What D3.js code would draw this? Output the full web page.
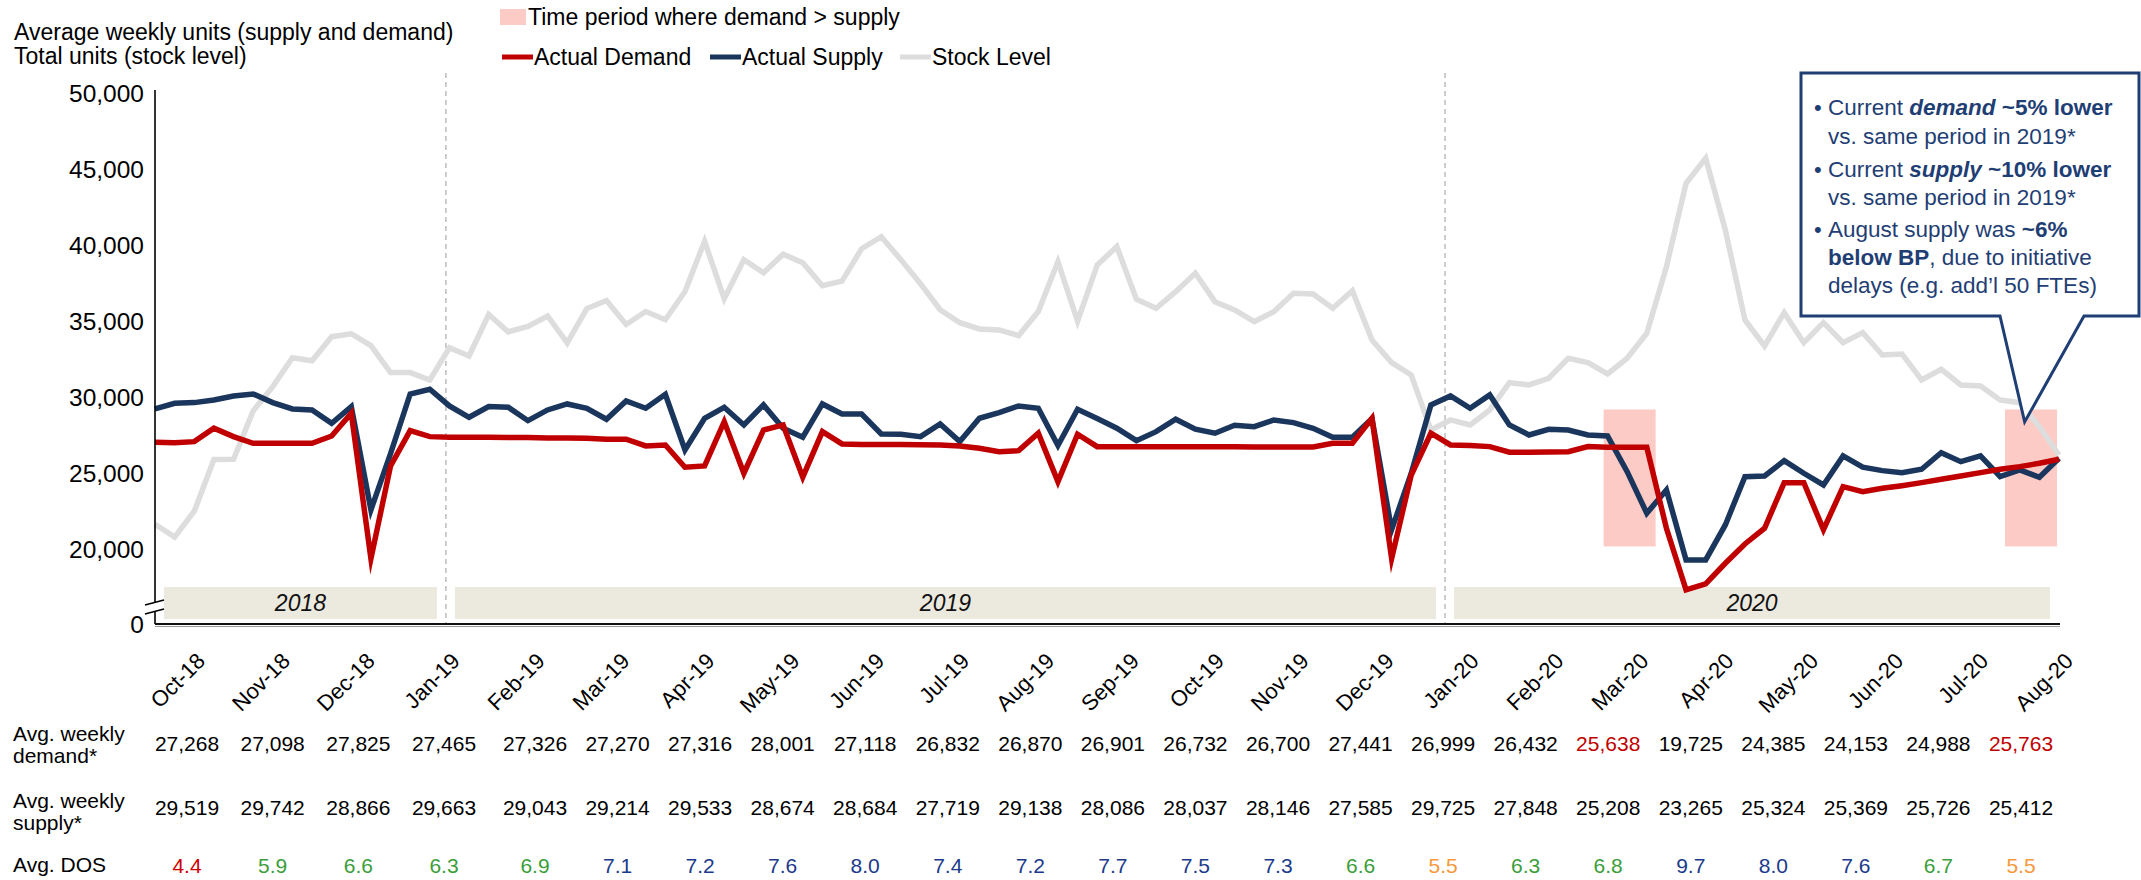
<!DOCTYPE html>
<html>
<head>
<meta charset="utf-8">
<script src="https://cdn.jsdelivr.net/npm/d3@7"></script>
<style>
  html, body { margin: 0; padding: 0; background: #fff; }
  svg { display: block; font-family: "Liberation Sans", Arial, Helvetica, sans-serif; }
</style>
</head>
<body>
<svg id="chart" width="2141" height="880"></svg>
<script>
// Weekly series, first week of Oct 2018 through the last week of Aug 2020
const weeklyDemand = [
  27042, 27020, 27086, 27966, 27415, 26980, 26980, 26980, 26980, 27459,
  28950, 19400, 25488, 27810, 27415, 27374, 27374, 27374, 27350, 27350,
  27330, 27330, 27310, 27245, 27245, 26802, 26868, 25403, 25488, 28401,
  25008, 27853, 28182, 24750, 27742, 26934, 26900, 26900, 26890, 26880,
  26870, 26802, 26650, 26427, 26493, 27637, 24456, 27571, 26758, 26758,
  26758, 26758, 26758, 26758, 26750, 26750, 26740, 26740, 26730, 26730,
  26980, 26980, 28622, 19400, 24896, 27637, 26868, 26824, 26758, 26388,
  26388, 26400, 26427, 26758, 26713, 26713, 26713, 21393, 17338, 17733,
  19093, 20361, 21393, 24390, 24390, 21300, 24127, 23799, 24020, 24193,
  24390, 24613, 24830, 25047, 25271, 25442, 25666, 25928
];
const weeklySupply = [
  29234, 29606, 29650, 29825, 30088, 30219, 29650, 29234, 29168, 28294,
  29387, 22600, 26300, 30219, 30528, 29431, 28688, 29387, 29343, 28465,
  29168, 29562, 29277, 28557, 29759, 29280, 30200, 26540, 28622, 29343,
  28182, 29497, 27966, 27374, 29562, 28905, 28905, 27591, 27570, 27415,
  28248, 27086, 28622, 28990, 29431, 29280, 26835, 29214, 28600, 27966,
  27151, 27742, 28557, 27900, 27637, 28163, 28071, 28511, 28334, 27966,
  27374, 27374, 28600, 21300, 25008, 29497, 30088, 29280, 30154, 28182,
  27525, 27900, 27853, 27525, 27459, 25113, 22379, 23910, 19310, 19310,
  21610, 24784, 24830, 25836, 25008, 24239, 26145, 25403, 25179, 25047,
  25271, 26362, 25770, 26145, 24784, 25225, 24745, 25993
];
const stockLevel = [
  21656, 20808, 22510, 25908, 25927, 29100, 30700, 32600, 32400, 33985,
  34176, 33400, 31626, 31626, 31140, 33256, 32717, 35444, 34301, 34662,
  35346, 33571, 35832, 36364, 34787, 35635, 35100, 36950, 40256, 36489,
  39039, 38191, 39407, 38848, 37336, 37632, 39768, 40551, 39039, 37462,
  35759, 34905, 34491, 34425, 34057, 35635, 38915, 35000, 38697, 39900,
  36443, 35851, 36943, 38152, 36285, 35740, 34971, 35628, 36837, 36791,
  35851, 37008, 33768, 32276, 31468, 27853, 28511, 28182, 29168, 30962,
  30811, 31250, 32565, 32276, 31534, 32565, 34208, 38585, 44067, 45710,
  40997, 35083, 33374, 35562, 33591, 34905, 33591, 34248, 32783, 32849,
  31140, 31843, 30811, 30745, 29825, 29648, 28070, 26211
];

// Monthly summary table
const monthLabels = [
  "Oct-18", "Nov-18", "Dec-18", "Jan-19", "Feb-19", "Mar-19", "Apr-19", "May-19",
  "Jun-19", "Jul-19", "Aug-19", "Sep-19", "Oct-19", "Nov-19", "Dec-19", "Jan-20",
  "Feb-20", "Mar-20", "Apr-20", "May-20", "Jun-20", "Jul-20", "Aug-20"
];
const monthlyDemand = [
  27268, 27098, 27825, 27465, 27326, 27270, 27316, 28001, 27118, 26832, 26870, 26901,
  26732, 26700, 27441, 26999, 26432, 25638, 19725, 24385, 24153, 24988, 25763
];
const monthlySupply = [
  29519, 29742, 28866, 29663, 29043, 29214, 29533, 28674, 28684, 27719, 29138, 28086,
  28037, 28146, 27585, 29725, 27848, 25208, 23265, 25324, 25369, 25726, 25412
];
const monthlyDOS = [
  4.4, 5.9, 6.6, 6.3, 6.9, 7.1, 7.2, 7.6, 8.0, 7.4, 7.2, 7.7,
  7.5, 7.3, 6.6, 5.5, 6.3, 6.8, 9.7, 8.0, 7.6, 6.7, 5.5
];

// Calendar years along the week axis (week index where each year begins / ends)
const yearLabels = ["2018", "2019", "2020"];
const yearBreaks = [0, 14.82, 65.72, 97];

// Weeks where demand ran above supply, and the value band they cover
const shortfallWeeks = [[73.8, 76.45], [94.25, 96.9]];
const shortfallRange = [20200, 29200];

const yTicks = [20000, 25000, 30000, 35000, 40000, 45000, 50000];
const axisFloor = 15100;          // value drawn at the broken axis, labelled 0
const calloutTarget = [95.25, 28380];

const C = {
  demand: "#C00000",
  supply: "#1B365D",
  stock: "#DDDDDD",
  shortfall: "#FDCBC6",
  band: "#ECE9DF",
  callout: "#1F3E74",
  dosRed: "#D00000",
  dosOrange: "#F7983A",
  dosGreen: "#3A9E3A",
  dosBlue: "#1B3A8C"
};

const svg = d3.select("#chart");

const x = d3.scaleLinear().domain([0, weeklyDemand.length - 1]).range([155, 2059]);
const y = d3.scaleLinear().domain([axisFloor, 50000]).range([624, 93]);
const monthX = d3.scalePoint().domain(monthLabels).range([201, 2069]);
const colX = d3.scaleLinear().domain([0, 3, 4, monthLabels.length - 1]).range([187, 444, 535, 2021]);

// ---- year bands
const bandGap = 9;
svg.append("g").selectAll("rect")
  .data(yearLabels)
  .join("rect")
  .attr("x", (d, i) => x(yearBreaks[i]) + bandGap)
  .attr("width", (d, i) => x(yearBreaks[i + 1]) - x(yearBreaks[i]) - 2 * bandGap)
  .attr("y", 587)
  .attr("height", 32)
  .attr("fill", C.band);

svg.append("g").selectAll("text")
  .data(yearLabels)
  .join("text")
  .attr("x", (d, i) => (x(yearBreaks[i]) + x(yearBreaks[i + 1])) / 2)
  .attr("y", 603)
  .attr("dominant-baseline", "central")
  .attr("text-anchor", "middle")
  .attr("font-style", "italic")
  .attr("font-size", 23)
  .attr("fill", "#111")
  .text(d => d);

// ---- year separators
svg.append("g").selectAll("line")
  .data(yearBreaks.slice(1, -1))
  .join("line")
  .attr("x1", d => x(d)).attr("x2", d => x(d))
  .attr("y1", 73).attr("y2", 624)
  .attr("stroke", "#BDBDBD")
  .attr("stroke-width", 1.5)
  .attr("stroke-dasharray", "5,4");

// ---- shortfall highlights
svg.append("g").selectAll("rect")
  .data(shortfallWeeks)
  .join("rect")
  .attr("x", d => x(d[0]))
  .attr("width", d => x(d[1]) - x(d[0]))
  .attr("y", y(shortfallRange[1]))
  .attr("height", y(shortfallRange[0]) - y(shortfallRange[1]))
  .attr("fill", C.shortfall);

// ---- series lines
const line = d3.line().x((d, i) => x(i)).y(d => y(d));
[[stockLevel, C.stock], [weeklySupply, C.supply], [weeklyDemand, C.demand]].forEach(([vals, col]) => {
  svg.append("path")
    .datum(vals)
    .attr("d", line)
    .attr("fill", "none")
    .attr("stroke", col)
    .attr("stroke-width", 5.5)
    .attr("stroke-linejoin", "miter")
    .attr("stroke-miterlimit", 10);
});

// ---- axes
const yAxis = svg.append("g");
yAxis.append("line")
  .attr("x1", x(0)).attr("x2", x(0))
  .attr("y1", y(50000) - 3).attr("y2", y(axisFloor))
  .attr("stroke", "#000").attr("stroke-width", 1.6);

yAxis.selectAll("text.tick")
  .data(yTicks)
  .join("text")
  .attr("class", "tick")
  .attr("x", x(0) - 11)
  .attr("y", d => y(d))
  .attr("dominant-baseline", "central")
  .attr("text-anchor", "end")
  .attr("font-size", 24.5)
  .attr("fill", "#000")
  .text(d => d3.format(",")(d));

yAxis.append("text")
  .attr("x", x(0) - 11)
  .attr("y", y(axisFloor))
  .attr("dominant-baseline", "central")
  .attr("text-anchor", "end")
  .attr("font-size", 24.5)
  .text("0");

// axis break
const bx = x(0), by = y(axisFloor);
yAxis.append("path")
  .attr("d", `M${bx - 10},${by - 19} L${bx + 9},${by - 24} L${bx + 9},${by - 15} L${bx - 10},${by - 10} Z`)
  .attr("fill", "#fff");
yAxis.append("path")
  .attr("d", `M${bx - 10},${by - 19} L${bx + 9},${by - 24} M${bx - 10},${by - 10} L${bx + 9},${by - 15}`)
  .attr("stroke", "#000").attr("stroke-width", 1.6).attr("fill", "none");

// x axis baseline
svg.append("line")
  .attr("x1", x(0)).attr("x2", x(weeklyDemand.length - 1) + 1)
  .attr("y1", y(axisFloor)).attr("y2", y(axisFloor))
  .attr("stroke", "#111").attr("stroke-width", 2);
svg.append("line")
  .attr("x1", x(0)).attr("x2", x(weeklyDemand.length - 1) + 1)
  .attr("y1", y(axisFloor) + 2.5).attr("y2", y(axisFloor) + 2.5)
  .attr("stroke", "#9A9A9A").attr("stroke-width", 1.2);

// month labels
svg.append("g").selectAll("text")
  .data(monthLabels)
  .join("text")
  .attr("transform", d => `translate(${monthX(d)},657) rotate(-45)`)
  .attr("text-anchor", "end")
  .attr("dy", "0.35em")
  .attr("font-size", 22)
  .attr("fill", "#000")
  .text(d => d);

// ---- title
const title = svg.append("text").attr("font-size", 23).attr("fill", "#000");
title.append("tspan").attr("x", 14).attr("y", 32).attr("dominant-baseline", "central")
  .text("Average weekly units (supply and demand)");
title.append("tspan").attr("x", 14).attr("y", 56).attr("dominant-baseline", "central")
  .text("Total units (stock level)");

// ---- legend
const legend = svg.append("g").attr("font-size", 23).attr("fill", "#000");
legend.append("rect").attr("x", 500).attr("y", 9).attr("width", 26).attr("height", 16).attr("fill", C.shortfall);
legend.append("text").attr("x", 528).attr("y", 17).attr("dominant-baseline", "central")
  .text("Time period where demand > supply");

const legendItems = [
  { label: "Actual Demand", color: C.demand, x: 502 },
  { label: "Actual Supply", color: C.supply, x: 710 },
  { label: "Stock Level", color: C.stock, x: 900 }
];
const li = legend.selectAll("g.item").data(legendItems).join("g").attr("class", "item");
li.append("line")
  .attr("x1", d => d.x).attr("x2", d => d.x + 31)
  .attr("y1", 57).attr("y2", 57)
  .attr("stroke", d => d.color).attr("stroke-width", 5);
li.append("text")
  .attr("x", d => d.x + 32).attr("y", 57)
  .attr("dominant-baseline", "central")
  .text(d => d.label);

// ---- callout
const tipX = x(calloutTarget[0]), tipY = y(calloutTarget[1]);
const box = { l: 1801, t: 73, r: 2139, b: 316, p1: 2000, p2: 2084 };
svg.append("path")
  .attr("d", `M${box.l},${box.t} H${box.r} V${box.b} H${box.p2} L${tipX},${tipY} L${box.p1},${box.b} H${box.l} Z`)
  .attr("fill", "#fff")
  .attr("stroke", C.callout)
  .attr("stroke-width", 3)
  .attr("stroke-linejoin", "miter");

const calloutLines = [
  { y: 107, bullet: true, parts: [["Current ", ""], ["demand", "bi"], [" ~5% lower", "b"]] },
  { y: 136, bullet: false, parts: [["vs. same period in 2019*", ""]] },
  { y: 169, bullet: true, parts: [["Current ", ""], ["supply", "bi"], [" ~10% lower", "b"]] },
  { y: 197, bullet: false, parts: [["vs. same period in 2019*", ""]] },
  { y: 229, bullet: true, parts: [["August supply was ", ""], ["~6%", "b"]] },
  { y: 257, bullet: false, parts: [["below BP", "b"], [", due to initiative", ""]] },
  { y: 285, bullet: false, parts: [["delays (e.g. add\u2019l 50 FTEs)", ""]] }
];
const cg = svg.append("g").attr("fill", C.callout).attr("font-size", 22.5);
calloutLines.forEach(l => {
  if (l.bullet) {
    cg.append("text").attr("x", 1814).attr("y", l.y).attr("dominant-baseline", "central")
      .attr("font-size", 22).text("\u2022");
  }
  const t = cg.append("text").attr("x", 1828).attr("y", l.y).attr("dominant-baseline", "central");
  l.parts.forEach(([txt, st]) => {
    t.append("tspan")
      .attr("font-weight", st.includes("b") ? "bold" : null)
      .attr("font-style", st.includes("i") ? "italic" : null)
      .text(txt);
  });
});

// ---- summary table
const table = svg.append("g").attr("font-size", 21).attr("fill", "#000");
const rowLabels = [
  { lines: ["Avg. weekly", "demand*"], y: [733, 755] },
  { lines: ["Avg. weekly", "supply*"], y: [800, 822] },
  { lines: ["Avg. DOS"], y: [864] }
];
rowLabels.forEach(r => {
  r.lines.forEach((s, i) => {
    table.append("text").attr("x", 13).attr("y", r.y[i]).attr("dominant-baseline", "central").text(s);
  });
});

const fmt = d3.format(",");
table.selectAll("text.dem").data(monthlyDemand).join("text").attr("class", "dem")
  .attr("x", (d, i) => colX(i)).attr("y", 743)
  .attr("text-anchor", "middle").attr("dominant-baseline", "central")
  .attr("fill", (d, i) => d > monthlySupply[i] ? C.demand : "#000")
  .text(d => fmt(d));

table.selectAll("text.sup").data(monthlySupply).join("text").attr("class", "sup")
  .attr("x", (d, i) => colX(i)).attr("y", 807)
  .attr("text-anchor", "middle").attr("dominant-baseline", "central")
  .text(d => fmt(d));

const dosColor = v => v < 5 ? C.dosRed : v < 5.8 ? C.dosOrange : v < 7 ? C.dosGreen : C.dosBlue;
table.selectAll("text.dos").data(monthlyDOS).join("text").attr("class", "dos")
  .attr("x", (d, i) => colX(i)).attr("y", 865)
  .attr("text-anchor", "middle").attr("dominant-baseline", "central")
  .attr("fill", d => dosColor(d))
  .text(d => d.toFixed(1));
</script>
</body>
</html>
